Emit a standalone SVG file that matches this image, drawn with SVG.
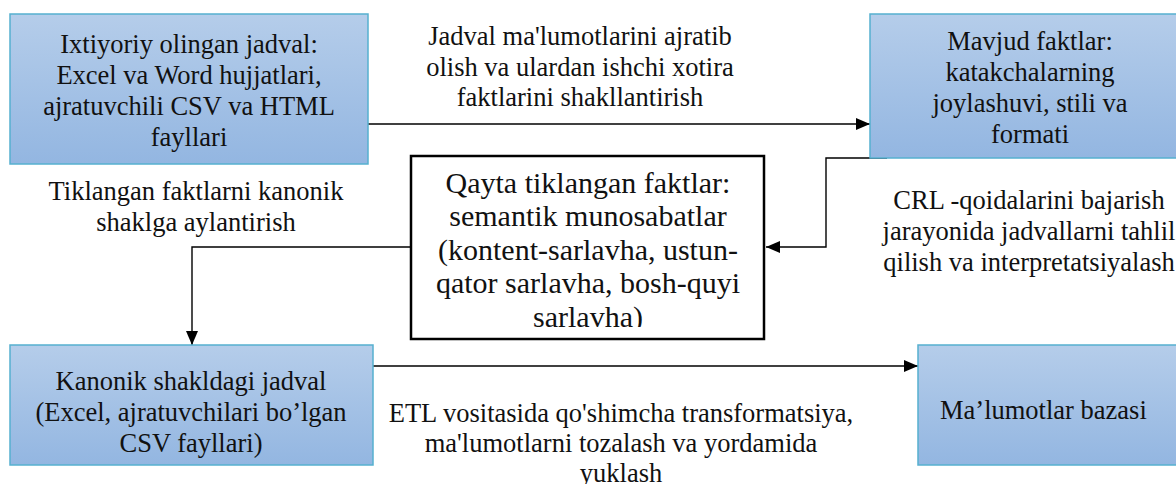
<svg xmlns="http://www.w3.org/2000/svg" width="1176" height="484" viewBox="0 0 1176 484">
  <defs>
    <linearGradient id="boxFill" x1="0" y1="0" x2="0" y2="1">
      <stop offset="0" stop-color="#b5cdea"/>
      <stop offset="1" stop-color="#93b6e1"/>
    </linearGradient>
    <marker id="arrow" viewBox="0 0 14 12" refX="14" refY="6" markerWidth="14" markerHeight="12" markerUnits="userSpaceOnUse" orient="auto">
      <path d="M0,0 L14,6 L0,12 Z" fill="#000"/>
    </marker>
    <clipPath id="innerClip">
      <rect x="412" y="157" width="351" height="170"/>
    </clipPath>
  </defs>
  <style>
    .box { fill: url(#boxFill); stroke: #56b0cf; stroke-width: 1.5; }
    .plain { fill: #fff; stroke: #000; stroke-width: 2.5; }
    .t { font-family: "Liberation Serif", "Times New Roman", serif; font-size: 26.5px; fill: #111; text-anchor: middle; }
    .tl { text-anchor: start; }
    .big { font-size: 30px; }
    .conn { fill: none; stroke: #000; stroke-width: 1.4; marker-end: url(#arrow); }
  </style>

  <g id="connectors">
    <path class="conn" d="M368,124 L870,124"/>
    <path class="conn" d="M887,158 L826,158 L826,247 L766,247"/>
    <path class="conn" d="M410,247 L192,247 L192,345"/>
    <path class="conn" d="M373,366 L918,366"/>
  </g>

  <g id="source-table">
    <rect class="box" x="10" y="14" width="358" height="150"/>
    <text class="t" x="189" y="53">Ixtiyoriy olingan jadval:</text>
    <text class="t" x="189" y="84">Excel va Word hujjatlari,</text>
    <text class="t" x="189" y="115">ajratuvchili CSV va HTML</text>
    <text class="t" x="189" y="146">fayllari</text>
  </g>

  <g id="existing-facts">
    <rect class="box" x="870" y="14" width="320" height="144"/>
    <text class="t" x="1030" y="50">Mavjud faktlar:</text>
    <text class="t" x="1030" y="81">katakchalarning</text>
    <text class="t" x="1030" y="112">joylashuvi, stili va</text>
    <text class="t" x="1030" y="143">formati</text>
  </g>

  <g id="recovered-facts">
    <rect class="plain" x="411" y="156" width="353" height="183"/>
    <g clip-path="url(#innerClip)">
      <text class="t big" x="588" y="193">Qayta tiklangan faktlar:</text>
      <text class="t big" x="588" y="226">semantik munosabatlar</text>
      <text class="t big" x="588" y="260">(kontent-sarlavha, ustun-</text>
      <text class="t big" x="588" y="293">qator sarlavha, bosh-quyi</text>
      <text class="t big" x="588" y="327">sarlavha)</text>
    </g>
  </g>

  <g id="canonical-table">
    <rect class="box" x="10" y="345" width="363" height="120"/>
    <text class="t" x="191" y="390">Kanonik shakldagi jadval</text>
    <text class="t" x="191" y="421">(Excel, ajratuvchilari bo’lgan</text>
    <text class="t" x="191" y="452">CSV fayllari)</text>
  </g>

  <g id="database">
    <rect class="box" x="918" y="345" width="272" height="120"/>
    <text class="t tl" x="940" y="419">Ma’lumotlar bazasi</text>
  </g>

  <g id="labels">
    <text class="t" x="580" y="45">Jadval ma'lumotlarini ajratib</text>
    <text class="t" x="580" y="76">olish va ulardan ishchi xotira</text>
    <text class="t" x="580" y="106">faktlarini shakllantirish</text>

    <text class="t" x="196" y="200">Tiklangan faktlarni kanonik</text>
    <text class="t" x="196" y="231">shaklga aylantirish</text>

    <text class="t" x="1029" y="209">CRL -qoidalarini bajarish</text>
    <text class="t" x="1029" y="240">jarayonida jadvallarni tahlil</text>
    <text class="t" x="1029" y="271">qilish va interpretatsiyalash</text>

    <text class="t" x="621" y="422">ETL vositasida qo'shimcha transformatsiya,</text>
    <text class="t" x="621" y="452">ma'lumotlarni tozalash va yordamida</text>
    <text class="t" x="621" y="482">yuklash</text>
  </g>
</svg>
